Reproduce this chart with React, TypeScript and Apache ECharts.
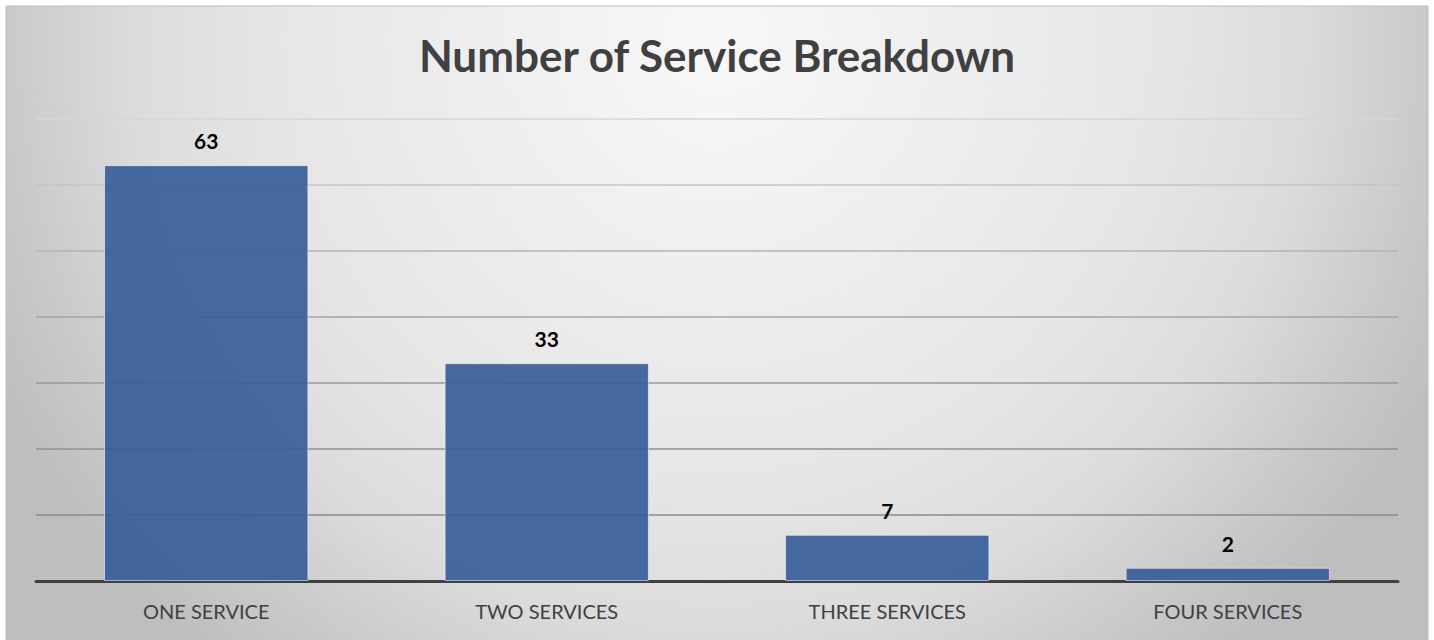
import React, { useEffect, useRef } from "react";
import * as echarts from "echarts";

const categories = ["ONE SERVICE", "TWO SERVICES", "THREE SERVICES", "FOUR SERVICES"];
const values = [63, 33, 7, 2];
const axisMax = 70;
const axisInterval = 10;
const gridColors = ["#8a8a8a", "#8a8a8a", "#919191", "#999999", "#a4a4a4", "#b3b3b3", "#c4c4c4", "#d6d6d6"];

export default function App() {
  const ref = useRef<HTMLDivElement>(null);
  useEffect(() => {
    if (!ref.current) return;
    const chart = echarts.init(ref.current, undefined, { renderer: "svg" });
    chart.setOption({
      animation: false,
      backgroundColor: "#ffffff",
      graphic: [
        {
          type: "rect",
          z: -100,
          silent: true,
          shape: { x: 6, y: 6, width: 1422, height: 650 },
          style: {
            fill: new echarts.graphic.RadialGradient(717, 40, 800, [
              { offset: 0, color: "#f8f8f8" },
              { offset: 0.55, color: "#e6e6e6" },
              { offset: 0.73, color: "#dcdcdc" },
              { offset: 0.9, color: "#c8c8c8" },
              { offset: 1, color: "#bebebe" },
            ], true),
            stroke: "#bdbdbd",
            lineWidth: 1,
          },
        },
      ],
      title: {
        text: "Number of Service Breakdown",
        left: "center",
        top: 28,
        textStyle: {
          fontFamily: "Lato",
          fontWeight: "bold",
          fontSize: 44,
          color: "#404040",
        },
      },
      grid: { left: 36, right: 36, top: 119, bottom: 59, containLabel: false },
      xAxis: {
        type: "category",
        data: categories,
        axisLine: { show: true, lineStyle: { color: "#404040", width: 3 } },
        axisTick: { show: false },
        axisLabel: {
          color: "#404040",
          fontFamily: "Lato",
          fontSize: 20,
          margin: 20,
        },
      },
      yAxis: {
        type: "value",
        min: 0,
        max: axisMax,
        interval: axisInterval,
        axisLabel: { show: false },
        axisLine: { show: false },
        axisTick: { show: false },
        splitLine: { show: true, lineStyle: { color: gridColors, width: 1.5 } },
      },
      series: [
        {
          type: "bar",
          data: values,
          barWidth: "60%",
          itemStyle: {
            color: "rgba(55,93,154,0.92)",
            borderColor: "rgba(255,255,255,0.55)",
            borderWidth: 1,
          },
          label: {
            show: true,
            position: "top",
            distance: 14,
            color: "#000000",
            fontFamily: "Lato",
            fontWeight: "bold",
            fontSize: 21,
          },
        },
      ],
    });
    return () => chart.dispose();
  }, []);
  return (
    <div
      ref={ref}
      style={{ position: "fixed", left: 0, top: 0, width: 1434, height: 640 }}
    />
  );
}
